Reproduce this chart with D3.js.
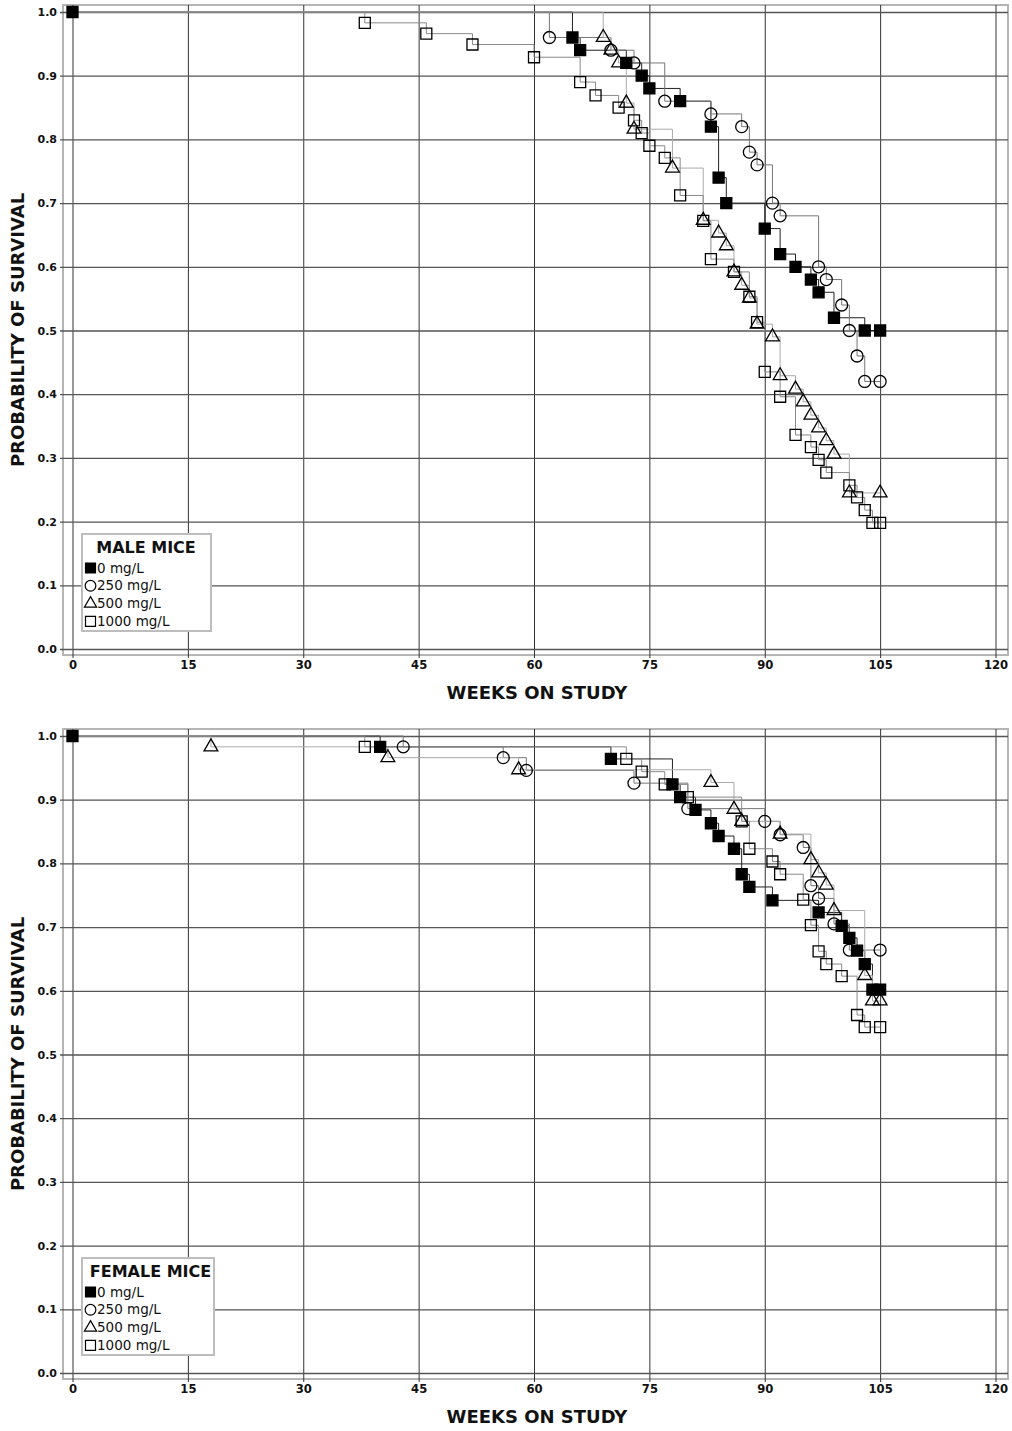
<!DOCTYPE html>
<html>
<head>
<meta charset="utf-8">
<script src="https://cdn.jsdelivr.net/npm/d3@7"></script>
<style>
  html, body { margin: 0; padding: 0; background: #fff; }
  svg { display: block; }
  text { font-family: "DejaVu Sans", Verdana, sans-serif; }
</style>
</head>
<body>
<svg id="chart" width="1012" height="1431"></svg>
<script>
// ---------------- DATA ----------------
const groups = ["0 mg/L", "250 mg/L", "500 mg/L", "1000 mg/L"];
const xTicks = [0, 15, 30, 45, 60, 75, 90, 105, 120];
const yTicks = [0, 0.1, 0.2, 0.3, 0.4, 0.5, 0.6, 0.7, 0.8, 0.9, 1.0];

// Male mice
const male0Weeks = [0,65,66,72,74,75,79,83,84,85,90,92,94,96,97,99,103,105];
const male0Surv  = [1,0.96,0.94,0.92,0.90,0.88,0.86,0.82,0.74,0.70,0.66,0.62,0.60,0.58,0.56,0.52,0.50,0.50];

const male250Weeks = [0,62,70,73,77,83,87,88,89,91,92,97,98,100,101,102,103,105];
const male250Surv  = [1,0.96,0.94,0.92,0.86,0.84,0.82,0.78,0.76,0.70,0.68,0.60,0.58,0.54,0.50,0.46,0.42,0.42];

const male500Weeks = [0,69,70,71,72,73,78,82,84,85,86,87,88,89,91,92,94,95,96,97,98,99,101,105];
const male500Surv  = [1,0.96,0.94,0.92,0.857,0.816,0.755,0.673,0.653,0.633,0.592,0.571,0.551,0.51,0.49,0.429,0.408,0.388,0.367,0.347,0.327,0.306,0.245,0.245];

const male1000Weeks = [0,38,46,52,60,66,68,71,73,74,75,77,79,82,83,86,88,89,90,92,94,96,97,98,101,102,103,104,105];
const male1000Surv  = [1,0.983,0.966,0.949,0.929,0.890,0.869,0.850,0.830,0.810,0.790,0.771,0.712,0.672,0.612,0.592,0.553,0.513,0.435,0.396,0.336,0.317,0.297,0.277,0.257,0.238,0.218,0.198,0.198];

// Female mice
const female0Weeks = [0,40,70,78,79,81,83,84,86,87,88,91,97,100,101,102,103,104,105];
const female0Surv  = [1,0.983,0.964,0.924,0.904,0.884,0.863,0.843,0.823,0.783,0.763,0.742,0.723,0.702,0.683,0.663,0.642,0.602,0.602];

const female250Weeks = [0,43,56,59,73,80,90,92,95,96,97,99,101,105];
const female250Surv  = [1,0.983,0.966,0.946,0.926,0.886,0.866,0.845,0.825,0.765,0.745,0.705,0.664,0.664];

const female500Weeks = [0,18,41,58,83,86,87,92,96,97,98,99,103,104,105];
const female500Surv  = [1,0.983,0.966,0.947,0.927,0.885,0.866,0.846,0.806,0.785,0.766,0.726,0.624,0.584,0.584];

const female1000Weeks = [0,38,72,74,77,80,87,88,91,92,95,96,97,98,100,102,103,105];
const female1000Surv  = [1,0.983,0.964,0.944,0.924,0.904,0.866,0.823,0.803,0.783,0.743,0.703,0.662,0.642,0.623,0.562,0.543,0.543];

// ---------------- STYLE ----------------
const lineColors = ["#222", "#777", "#aaa", "#8a8a8a"];
const symbolTypes = [d3.symbolSquare, d3.symbolCircle, d3.symbolTriangle, d3.symbolSquare];
const symbolFilled = [true, false, false, false];
const symbolSizes = [121, 113, 82, 121];
const legendSizes = [100, 90, 64, 100];

const panels = [
  { title: "MALE MICE", top: 0, boxW: 129, titleX: 146,
    series: [[male0Weeks, male0Surv],[male250Weeks, male250Surv],[male500Weeks, male500Surv],[male1000Weeks, male1000Surv]] },
  { title: "FEMALE MICE", top: 724, boxW: 132, titleX: 150.5,
    series: [[female0Weeks, female0Surv],[female250Weeks, female250Surv],[female500Weeks, female500Surv],[female1000Weeks, female1000Surv]] }
];

const svg = d3.select("#chart");
const frame = { left: 63, right: 1008, top: 5, bottom: 655 };

panels.forEach(p => {
  const g = svg.append("g").attr("transform", `translate(0,${p.top})`);
  const x = d3.scaleLinear().domain([0, 120]).range([72.5, 995.5]);
  const y = d3.scaleLinear().domain([0, 1]).range([649, 12]);

  // frame
  g.append("rect")
    .attr("x", frame.left).attr("y", frame.top)
    .attr("width", frame.right - frame.left).attr("height", frame.bottom - frame.top)
    .attr("fill", "none").attr("stroke", "#b5b5b5").attr("stroke-width", 2);

  // x grid via axis
  const xAxis = d3.axisBottom(x).tickValues(xTicks).tickFormat(d3.format("d"))
    .tickSize(-(frame.bottom - frame.top) - 3).tickPadding(5);
  const gx = g.append("g").attr("transform", `translate(0,${frame.bottom + 3})`).call(xAxis);
  gx.select(".domain").remove();
  gx.selectAll(".tick line").attr("stroke", "#333").attr("stroke-width", 1);
  gx.selectAll(".tick text").attr("font-size", 11.6).attr("font-weight", "bold").attr("fill", "#111")
    .attr("dy", "0.5em");

  // y grid via axis
  const yAxis = d3.axisLeft(y).tickValues(yTicks).tickFormat(d3.format(".1f"))
    .tickSize(-(frame.right - frame.left) - 3).tickPadding(3);
  const gy = g.append("g").attr("transform", `translate(${frame.left - 3},0)`).call(yAxis);
  gy.select(".domain").remove();
  gy.selectAll(".tick line").attr("stroke", "#555").attr("stroke-width", 1.3);
  gy.selectAll(".tick text").attr("font-size", 11).attr("font-weight", "bold").attr("fill", "#111");

  // axis titles
  g.append("text").attr("x", 537).attr("y", 699).attr("text-anchor", "middle")
    .attr("font-size", 18).attr("font-weight", "bold").attr("fill", "#111")
    .text("WEEKS ON STUDY");
  g.append("text").attr("transform", "translate(24,330) rotate(-90)").attr("text-anchor", "middle")
    .attr("font-size", 18).attr("font-weight", "bold").attr("fill", "#111")
    .text("PROBABILITY OF SURVIVAL");

  // step lines
  const line = d3.line().x(d => x(d[0])).y(d => y(d[1])).curve(d3.curveStepAfter);
  p.series.forEach((s, i) => {
    const pts = s[0].map((w, k) => [w, s[1][k]]);
    g.append("path").attr("d", line(pts)).attr("fill", "none")
      .attr("stroke", lineColors[i]).attr("stroke-width", 1);
  });

  // markers (draw 1000 first so filled squares are on top); start marker only for control
  [3, 2, 1, 0].forEach(i => {
    const s = p.series[i];
    const pts = s[0].map((w, k) => [w, s[1][k]]).filter((d, k) => i === 0 || k > 0);
    g.append("g").selectAll("path").data(pts).join("path")
      .attr("transform", d => `translate(${x(d[0])},${y(d[1])})`)
      .attr("d", d3.symbol().type(symbolTypes[i]).size(symbolSizes[i]))
      .attr("fill", symbolFilled[i] ? "#000" : "none")
      .attr("stroke", "#000").attr("stroke-width", 1.3);
  });

  // legend
  const lg = g.append("g");
  lg.append("rect").attr("x", 82).attr("y", 534).attr("width", p.boxW).attr("height", 97)
    .attr("fill", "#fff").attr("stroke", "#bdbdbd").attr("stroke-width", 2);
  lg.append("text").attr("x", p.titleX).attr("y", 553).attr("text-anchor", "middle")
    .attr("font-size", 16).attr("font-weight", "bold").attr("fill", "#111").text(p.title);
  groups.forEach((name, i) => {
    const by = 572.5 + i * 17.8;
    lg.append("path").attr("transform", `translate(90.5,${by - 4.5})`)
      .attr("d", d3.symbol().type(symbolTypes[i]).size(legendSizes[i]))
      .attr("fill", symbolFilled[i] ? "#000" : "none")
      .attr("stroke", "#000").attr("stroke-width", 1.2);
    lg.append("text").attr("x", 97).attr("y", by).attr("font-size", 13.5)
      .attr("fill", "#111").text(name);
  });
});
</script>
</body>
</html>
